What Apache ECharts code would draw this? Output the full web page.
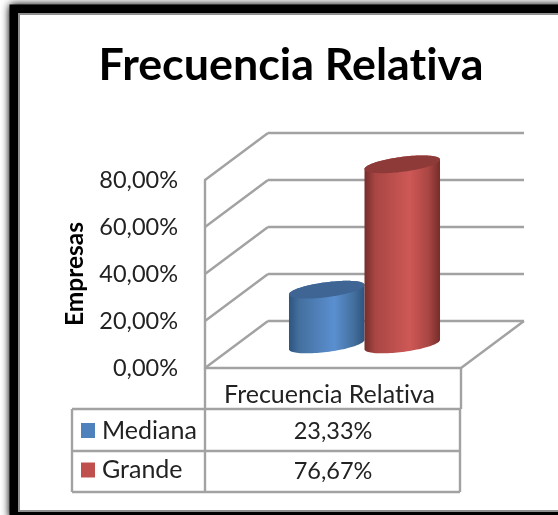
<!DOCTYPE html>
<html>
<head>
<meta charset="utf-8">
<style>html,body{margin:0;padding:0;background:#fff;overflow:hidden}#c{width:558px;height:515px}</style>
<script src="https://cdn.jsdelivr.net/npm/echarts@6/dist/echarts.min.js"></script>
</head>
<body>
<div id="c"></div>
<script>
var chartTitle = 'Frecuencia Relativa';
var yAxisName = 'Empresas';
var categories = ['Frecuencia Relativa'];
var seriesNames = ['Mediana', 'Grande'];
var mediana = [23.33];
var grande = [76.67];
var yTicks = [0, 20, 40, 60, 80];

var FONT = 'Lato, "Open Sans", sans-serif';
var GRID_COLOR = '#a2a2a2';
var TEXT = '#222';
var DX = 63, DY = -47;

// plain glyphs: the reference has no "ti" ligature
var origGetContext = HTMLCanvasElement.prototype.getContext;
HTMLCanvasElement.prototype.getContext = function () {
  var ctx = origGetContext.apply(this, arguments);
  if (ctx && 'textRendering' in ctx) ctx.textRendering = 'optimizeSpeed';
  return ctx;
};

function pct(v) { return v.toFixed(2).replace('.', ',') + '%'; }

function line(x1, y1, x2, y2) {
  return { type: 'line', shape: { x1: x1, y1: y1, x2: x2, y2: y2 },
           style: { stroke: GRID_COLOR, lineWidth: 2.4 } };
}

function renderWall(params, api) {
  var v = api.value(1);
  var p = api.coord([0, v]);
  var w = api.size([1, 0])[0];
  var x0 = p[0] - w / 2, y0 = p[1];
  var kids = [line(x0, y0, x0 + DX, y0 + DY), line(x0 + DX, y0 + DY, x0 + DX + w, y0 + DY)];
  if (v === 0) kids.push(line(x0 + w, y0, x0 + w + DX, y0 + DY));
  return { type: 'group', children: kids };
}

function cylinder(side, c) {
  return function (params, api) {
    var top = api.coord([0, api.value(1)]);
    var base = api.coord([0, 0]);
    var band = api.size([1, 0])[0];
    var a = band * 0.1475;
    var b = 7.5, k = 0.125;
    var cx = base[0] + side * a + DX / 2;
    var yB = base[1] + DY / 2;
    var yT = top[1] + DY / 2;
    function pt(t, cy) {
      var dx = a * Math.cos(t);
      return [cx + dx, cy - k * dx + b * Math.sin(t)];
    }
    var body = [], lid = [], i, N = 48;
    for (i = 0; i <= N; i++) body.push(pt(Math.PI * i / N, yB));
    for (i = 0; i <= N; i++) body.push(pt(Math.PI + Math.PI * i / N, yT));
    for (i = 0; i < N * 2; i++) lid.push(pt(Math.PI * i / N, yT));
    return { type: 'group', children: [
      { type: 'polygon', shape: { points: body }, style: {
        fill: { type: 'linear', x: 0, y: 0, x2: 1, y2: 0, colorStops: [
          { offset: 0, color: c.edge }, { offset: 0.14, color: c.mid },
          { offset: 0.6, color: c.light }, { offset: 0.85, color: c.mid }, { offset: 1, color: c.edge }
        ] } } },
      { type: 'polygon', shape: { points: lid }, style: { fill: c.lid } }
    ] };
  };
}

var chart = echarts.init(document.getElementById('c'), null, { renderer: 'canvas' });

var valueRows = [
  { y: 431.5, text: pct(mediana[0]) },
  { y: 471.5, text: pct(grande[0]) }
];

var graphic = [
  { type: 'rect', z: -10, shape: { x: 13.5, y: 8.5, width: 800, height: 506 },
    style: { fill: '#000', stroke: '#000', lineWidth: 8, shadowBlur: 8, shadowColor: '#000' } },
  { type: 'rect', z: -9, shape: { x: 19, y: 14, width: 800, height: 497 },
    style: { fill: '#fff', stroke: '#8f8f8f', lineWidth: 2 } }
];
[[72, 409, 460, 409], [72, 451, 460, 451], [72, 492, 460, 492],
 [72, 409, 72, 492], [205, 409, 205, 492], [460, 409, 460, 492]].forEach(function (l) {
  graphic.push({ type: 'line', z: 1, shape: { x1: l[0], y1: l[1], x2: l[2], y2: l[3] },
                 style: { stroke: GRID_COLOR, lineWidth: 2.4 } });
});
valueRows.forEach(function (r) {
  graphic.push({ type: 'text', z: 3, x: 333, y: r.y,
    style: { text: r.text, fill: TEXT, font: '23.5px ' + FONT, textAlign: 'center', textVerticalAlign: 'middle' } });
});

chart.setOption({
  animation: false,
  title: { text: chartTitle, left: 286, top: 38, textAlign: 'center',
           textStyle: { fontFamily: FONT, fontSize: 44.8, fontWeight: 'bold', color: '#000' } },
  legend: { data: seriesNames, icon: 'rect', orient: 'vertical', left: 81, top: 418, padding: 0, itemWidth: 14, itemHeight: 15,
            itemGap: 14.5, itemStyle: { borderWidth: 0 }, selectedMode: false,
            textStyle: { fontFamily: FONT, fontSize: 25, color: TEXT, padding: [0, 0, 0, 2] } },
  graphic: graphic,
  grid: { left: 205, top: 180, width: 256, height: 188 },
  xAxis: { type: 'category', data: categories,
    axisLine: { lineStyle: { color: GRID_COLOR, width: 2.4 } },
    axisTick: { show: true, length: 41, alignWithLabel: false, lineStyle: { color: GRID_COLOR, width: 2.4 } },
    axisLabel: { margin: 14, fontFamily: FONT, fontSize: 25, color: TEXT, padding: [0, 7, 0, 0] } },
  yAxis: { type: 'value', min: 0, max: 80, interval: 20, name: yAxisName, nameLocation: 'middle', nameRotate: 90, nameGap: 117,
    nameTextStyle: { fontFamily: FONT, fontSize: 24.5, fontWeight: 'bold', color: '#000' },
    axisLine: { show: true, lineStyle: { color: GRID_COLOR, width: 2.4 } },
    axisTick: { show: false }, splitLine: { show: false },
    axisLabel: { margin: 27, fontFamily: FONT, fontSize: 23.5, color: TEXT, padding: [4, 0, 0, 0], formatter: pct } },
  series: [
    { type: 'custom', name: 'walls', silent: true, z: 1, renderItem: renderWall,
      data: yTicks.map(function (v) { return [0, v]; }), encode: { x: 0, y: 1 } },
    { type: 'custom', name: seriesNames[0], z: 2, itemStyle: { color: '#4f81bd' },
      renderItem: cylinder(-1, { edge: '#2f5480', mid: '#44709f', light: '#5a8fd0', lid: '#3e6593' }),
      data: mediana.map(function (v, i) { return [i, v]; }), encode: { x: 0, y: 1 } },
    { type: 'custom', name: seriesNames[1], z: 3, itemStyle: { color: '#c0504d' },
      renderItem: cylinder(1, { edge: '#752d2b', mid: '#a84643', light: '#ce5856', lid: '#8e3a38' }),
      data: grande.map(function (v, i) { return [i, v]; }), encode: { x: 0, y: 1 } }
  ]
});
</script>
</body>
</html>
